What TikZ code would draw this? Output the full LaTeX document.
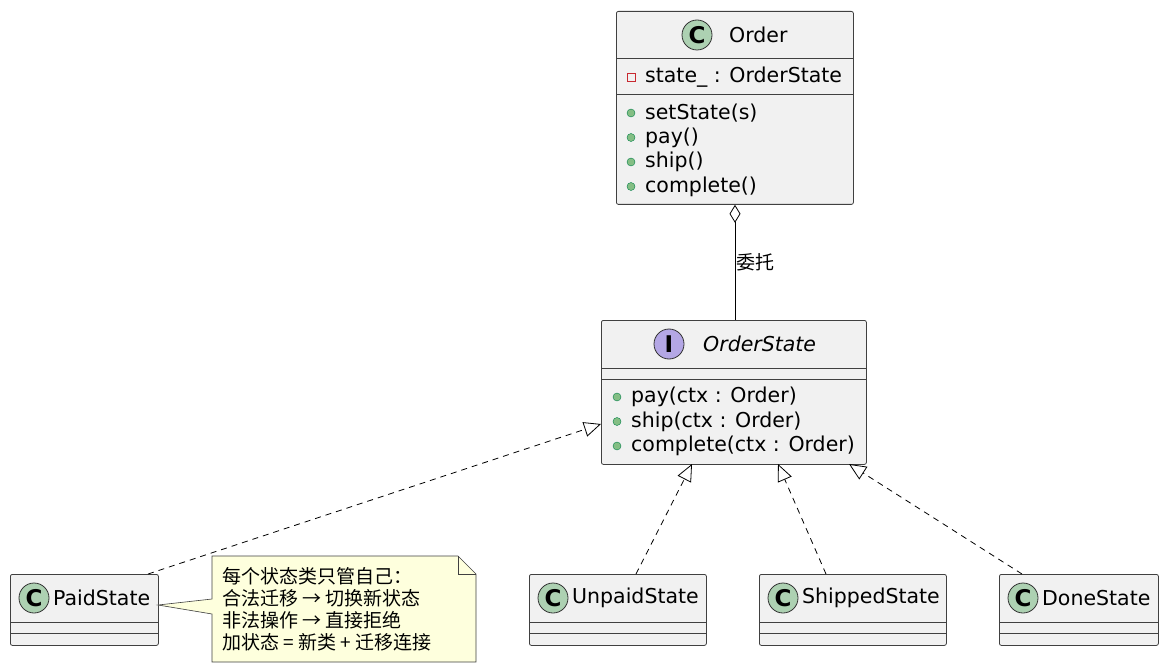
\documentclass[tikz,border=0pt]{standalone}
\usepackage{fontspec}
\setmainfont{DejaVu Sans}
\newfontfamily\cjk{Noto Sans CJK SC}
\usetikzlibrary{arrows.meta,positioning}

\definecolor{boxfill}{HTML}{F1F1F1}
\definecolor{circC}{HTML}{ADD1B2}
\definecolor{circI}{HTML}{B4A7E5}
\definecolor{notefill}{HTML}{FEFFDD}
\definecolor{pubgreen}{HTML}{84BE84}
\definecolor{pubdark}{HTML}{038048}
\definecolor{privred}{HTML}{C82930}

\tikzset{
  classbox/.style={draw=black!75,fill=boxfill,rounded corners=2pt,anchor=north west,inner sep=0pt,line width=0.8pt},
  circ/.style={circle,draw=black!80,line width=0.8pt,minimum size=30pt,inner sep=0pt,font=\fontsize{23}{23}\selectfont\bfseries},
  txt/.style={anchor=west,inner sep=0pt,font=\fontsize{20.5}{24}\selectfont},
  pub/.style={circle,draw=pubdark,fill=pubgreen,minimum size=8pt,inner sep=0pt},
  priv/.style={draw=privred,minimum size=8pt,inner sep=0pt},
  realize/.style={dashed,dash pattern=on 6pt off 5pt,line width=0.8pt,-{Triangle[open,length=17pt,width=15pt]}},
}

\begin{document}
\begin{tikzpicture}[x=1pt,y=-1pt]
  \useasboundingbox (0,0) rectangle (1167,671);

  % Order
  \node[classbox,minimum width=237pt,minimum height=193pt] (order) at (616,11) {};
  \draw[black!75,line width=0.8pt] (616,58) -- (853,58) (616,94) -- (853,94);
  \node[circ,fill=circC] (orderC) at (697,35) {C};
  \node[txt] (orderT) at (729,35) {Order};
  \node[priv] at (631,77) {};
  \node[txt] at (645,77) {state\_ : OrderState};
  \foreach \t [count=\i from 0] in {setState(s),pay(),ship(),complete()}
    {\node[pub] at (631,113+24.5*\i) {};
     \node[txt] at (645,113+24.5*\i) {\t};}

  % OrderState
  \node[classbox,minimum width=265pt,minimum height=144pt] (state) at (601,320) {};
  \draw[black!75,line width=0.8pt] (601,368) -- (866,368) (601,379) -- (866,379);
  \node[circ,fill=circI] (stateI) at (669,344) {I};
  \node[txt,font=\fontsize{20.5}{24}\selectfont\itshape] (stateT) at (703,344) {OrderState};
  \foreach \t [count=\i from 0] in {pay(ctx : Order),ship(ctx : Order),complete(ctx : Order)}
    {\node[pub] at (617,397+24.5*\i) {};
     \node[txt] at (631,397+24.5*\i) {\t};}

  % Concrete states
  \foreach \n/\x/\w/\t in {paid/10/148/PaidState,unpaid/529/177/UnpaidState,shipped/759/187/ShippedState,done/999/159/DoneState}
    {\node[classbox,minimum width=\w pt,minimum height=71pt] (\n) at (\x,574) {};
     \draw[black!75,line width=0.8pt] (\x,622) -- ++(\w,0) (\x,633) -- ++(\w,0);
     \node[circ,fill=circC] at (\x+24,598) {C};
     \node[txt] at (\x+43,598) {\t};}

  % Note
  \coordinate (noteA) at (158,605);
  \filldraw[draw=black!75,fill=notefill,line width=0.6pt] (212,556) -- (458,556) -- (476,574) -- (476,662) -- (212,662) -- (212,614) -- (noteA) -- (212,599) -- cycle;
  \draw[black!75,line width=0.6pt] (458,556) -- (458,574) -- (476,574);
  \foreach \t [count=\i from 0] in {每个状态类只管自己：,合法迁移 → 切换新状态,非法操作 → 直接拒绝,加状态 = 新类 + 迁移连接}
    \node[txt,font=\fontsize{19}{22}\cjk] at (222,576+22*\i) {\t};

  % Connectors
  \draw[line width=0.8pt,{Diamond[open,length=18pt,width=11pt]}-] (order.south -| 735,0) -- node[txt,pos=0.5,right=1pt,font=\fontsize{19}{22}\cjk] {委托} (state.north -| 735,0);
  \draw[realize] (148,574) -- (601,424);
  \draw[realize] (636,574) -- (692,464);
  \draw[realize] (826,574) -- (778,464);
  \draw[realize] (1022,574) -- (849,464);
\end{tikzpicture}
\end{document}
